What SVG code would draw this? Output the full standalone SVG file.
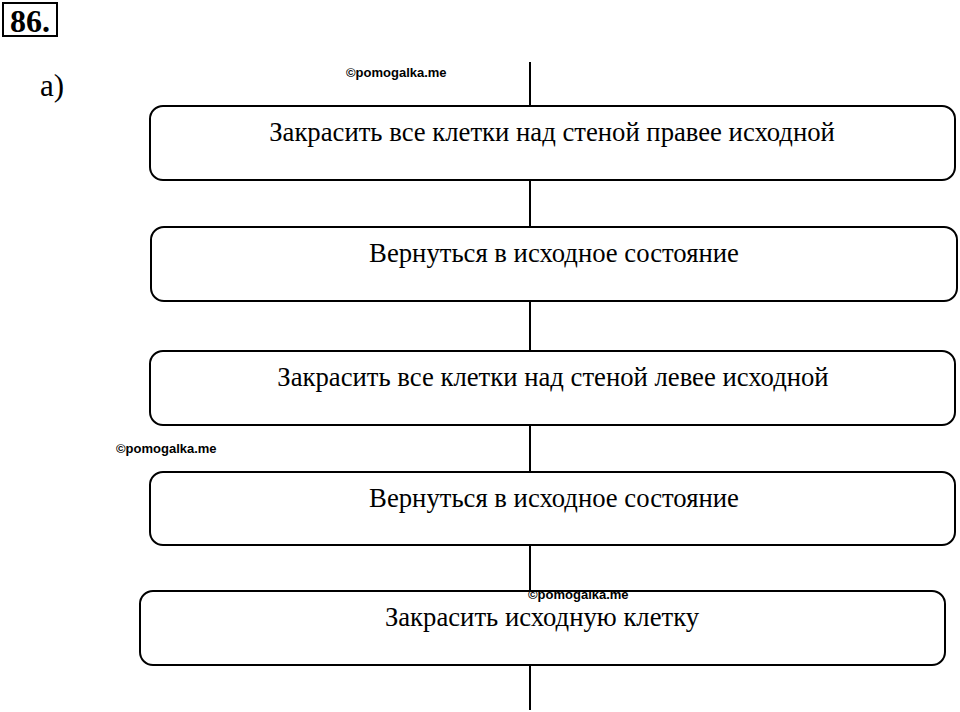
<svg xmlns="http://www.w3.org/2000/svg" width="960" height="712" viewBox="0 0 960 712">
<style>
.box{fill:#fff;stroke:#000;stroke-width:2}
.t{font-family:"Liberation Serif","Times New Roman",serif;font-size:26.7px;fill:#000;text-anchor:middle}
.wm{font-family:"Liberation Sans",Arial,sans-serif;font-size:13px;font-weight:bold;fill:#000}
.conn line{stroke:#000;stroke-width:2}
</style>
<rect width="960" height="712" fill="#fff"/>
<g id="title">
<rect x="3" y="3" width="54" height="33" fill="#fff" stroke="#000" stroke-width="2"/>
<text x="30" y="32" font-family="Liberation Serif,serif" font-size="32" font-weight="bold" text-anchor="middle">86.</text>
</g>
<text x="40" y="96" font-family="Liberation Serif,serif" font-size="31">а)</text>
<g class="conn" id="connectors">
<line x1="530" y1="62" x2="530" y2="106"/>
<line x1="530" y1="180" x2="530" y2="227"/>
<line x1="530" y1="301" x2="530" y2="351"/>
<line x1="530" y1="425" x2="530" y2="472"/>
<line x1="530" y1="545" x2="530" y2="591"/>
<line x1="530" y1="665" x2="530" y2="710"/>
</g>
<g id="n1"><rect class="box" x="150" y="106" width="805" height="74" rx="13"/><text class="t" x="552" y="141">Закрасить все клетки над стеной правее исходной</text></g>
<g id="n2"><rect class="box" x="151" y="227" width="806" height="74" rx="13"/><text class="t" x="554" y="262">Вернуться в исходное состояние</text></g>
<g id="n3"><rect class="box" x="150" y="351" width="805" height="74" rx="13"/><text class="t" x="553" y="386">Закрасить все клетки над стеной левее исходной</text></g>
<g id="n4"><rect class="box" x="150" y="472" width="805" height="73" rx="13"/><text class="t" x="554" y="507">Вернуться в исходное состояние</text></g>
<g id="n5"><rect class="box" x="140" y="591" width="805" height="74" rx="13"/><text class="t" x="542" y="626">Закрасить исходную клетку</text></g>
<text class="wm" x="346" y="77">©pomogalka.me</text>
<text class="wm" x="116" y="453">©pomogalka.me</text>
<text class="wm" x="528" y="599">©pomogalka.me</text>
</svg>
